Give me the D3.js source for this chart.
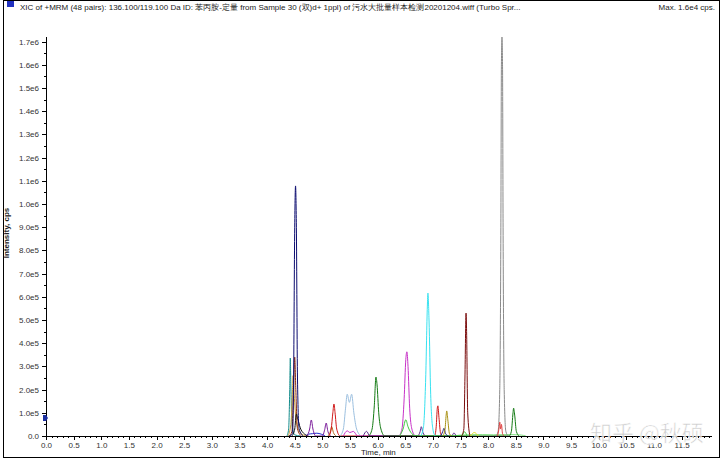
<!DOCTYPE html>
<html>
<head>
<meta charset="utf-8">
<script src="https://cdn.jsdelivr.net/npm/d3@7"></script>
<style>
  body { margin: 0; background: #fff; }
  svg { display: block; font-family: "Liberation Sans", Arial, sans-serif; }
  .axis text { font-size: 8px; fill: #333; }
  .axis path, .axis line { stroke: #000; shape-rendering: crispEdges; }
</style>
</head>
<body>
<svg id="vis_canvas" width="722" height="462"></svg>
<script>
// chart text
var title_text = "XIC of +MRM (48 pairs): 136.100/119.100 Da ID: 苯丙胺-定量 from Sample 30 (双)d+ 1ppl) of 污水大批量样本检测20201204.wiff (Turbo Spr...";
var max_text = "Max. 1.6e4 cps.";
var x_label = "Time, min";
var y_label = "Intensity, cps";
var watermark = "知乎 @秋硕";

// axis ticks
var x_ticks = [0, 0.5, 1, 1.5, 2, 2.5, 3, 3.5, 4, 4.5, 5, 5.5, 6, 6.5, 7, 7.5, 8, 8.5, 9, 9.5, 10, 10.5, 11, 11.5];
var y_ticks = [0, 1e5, 2e5, 3e5, 4e5, 5e5, 6e5, 7e5, 8e5, 9e5, 1e6, 1.1e6, 1.2e6, 1.3e6, 1.4e6, 1.5e6, 1.6e6, 1.7e6];
var threshold_level = 0.78e5;

// traces, [time (min), intensity (cps)]
var teal_trace = [[4.36,0],[4.39,0.3e5],[4.41,2.0e5],[4.42,3.36e5],[4.43,2.2e5],[4.45,0.5e5],[4.50,0.05e5],[4.60,0]];
var gold_trace = [[4.38,0],[4.43,0.5e5],[4.46,2.0e5],[4.47,2.6e5],[4.49,1.8e5],[4.53,0.6e5],[4.60,0.15e5],[4.70,0]];
var brown_trace = [[4.40,0],[4.45,0.2e5],[4.48,2.0e5],[4.50,3.4e5],[4.52,2.0e5],[4.55,0.3e5],[4.62,0]];
var navy_trace = [[4.40,0],[4.46,0.1e5],[4.48,2.5e5],[4.50,9.0e5],[4.515,10.78e5],[4.53,9.0e5],[4.55,2.5e5],[4.58,0.3e5],[4.65,0]];
var black_trace = [[4.45,0],[4.50,0.3e5],[4.53,0.95e5],[4.55,0.8e5],[4.60,0.35e5],[4.66,0.12e5],[4.75,0]];
var blue_trace = [[4.70,0],[4.75,0.08e5],[4.82,0.1e5],[4.90,0.12e5],[4.98,0.08e5],[5.05,0]];
var purple_trace = [[4.72,0],[4.77,0.3e5],[4.80,0.69e5],[4.83,0.3e5],[4.88,0],[5.00,0],[5.04,0.25e5],[5.07,0.56e5],[5.10,0.2e5],[5.15,0]];
var orange_trace = [[5.10,0],[5.14,0.15e5],[5.17,0.4e5],[5.20,0.15e5],[5.25,0]];
var red_trace = [[5.12,0],[5.16,0.3e5],[5.19,1.0e5],[5.21,1.38e5],[5.23,1.0e5],[5.26,0.3e5],[5.32,0],
                 [7.03,0],[7.06,0.4e5],[7.08,1.2e5],[7.09,1.3e5],[7.11,0.8e5],[7.14,0.1e5],[7.17,0]];
var steel_trace = [[5.32,0],[5.38,0.3e5],[5.42,1.2e5],[5.45,1.8e5],[5.49,1.45e5],[5.53,1.8e5],[5.57,1.0e5],[5.62,0.3e5],[5.70,0]];
var magenta_trace = [[5.38,0],[5.45,0.22e5],[5.50,0.15e5],[5.56,0.2e5],[5.64,0],
                     [6.38,0],[6.44,0.3e5],[6.48,1.6e5],[6.51,3.3e5],[6.53,3.63e5],[6.55,3.0e5],[6.58,1.2e5],[6.62,0.3e5],[6.68,0]];
var violet_trace = [[5.74,0],[5.80,0.2e5],[5.86,0],[6.72,0],[6.77,0.2e5],[6.79,0.4e5],[6.82,0.15e5],[6.87,0],[7.34,0],[7.38,0.13e5],[7.42,0]];
var darkgreen_trace = [[5.84,0],[5.90,0.3e5],[5.94,1.3e5],[5.97,2.54e5],[5.99,2.2e5],[6.02,1.0e5],[6.06,0.3e5],[6.13,0],
                       [8.38,0],[8.42,0.2e5],[8.45,1.0e5],[8.46,1.2e5],[8.48,0.9e5],[8.51,0.2e5],[8.56,0]];
var green_trace = [[6.40,0],[6.46,0.3e5],[6.51,0.7e5],[6.55,0.4e5],[6.62,0.1e5],[6.70,0],[7.52,0],[7.57,0.18e5],[7.62,0]];
var cyan_trace = [[6.78,0],[6.83,0.4e5],[6.87,2.5e5],[6.90,5.6e5],[6.91,6.16e5],[6.93,5.0e5],[6.96,1.8e5],[7.00,0.3e5],[7.04,0]];
var indigo_trace = [[7.14,0],[7.18,0.2e5],[7.20,0.33e5],[7.23,0.1e5],[7.28,0]];
var olive_trace = [[7.18,0],[7.22,0.3e5],[7.24,0.9e5],[7.25,1.08e5],[7.27,0.7e5],[7.30,0.1e5],[7.34,0]];
var maroon_trace = [[7.52,0],[7.56,0.3e5],[7.58,2.5e5],[7.60,5.3e5],[7.61,4.5e5],[7.63,1.0e5],[7.67,0]];
var yellow_trace = [[7.68,0],[7.75,0.15e5],[7.82,0]];
var lime_trace = [[7.40,0],[7.50,0.04e5],[7.90,0.06e5],[8.10,0.05e5],[8.40,0.06e5],[8.60,0.04e5],[8.68,0]];
var gray_trace = [[8.14,0],[8.18,0.2e5],[8.21,2.0e5],[8.23,9.0e5],[8.24,16.0e5],[8.25,17.2e5],[8.26,16.0e5],[8.27,9.0e5],[8.29,2.0e5],[8.32,0.2e5],[8.36,0]];
var pink_trace = [[8.17,0],[8.20,0.4e5],[8.21,0.6e5],[8.225,0.3e5],[8.24,0.5e5],[8.26,0.1e5],[8.29,0]];

var traces = [
    {data: lime_trace, color: "#7ee07e"},
    {data: blue_trace, color: "#1f2fd0"},
    {data: teal_trace, color: "#138c8c"},
    {data: gold_trace, color: "#c89a3c"},
    {data: brown_trace, color: "#8a2a10"},
    {data: black_trace, color: "#111111"},
    {data: purple_trace, color: "#7a1a9a"},
    {data: orange_trace, color: "#b86a20"},
    {data: red_trace, color: "#d01818"},
    {data: steel_trace, color: "#9cc0e0"},
    {data: magenta_trace, color: "#c832c8"},
    {data: violet_trace, color: "#5a2a8a"},
    {data: darkgreen_trace, color: "#137a13"},
    {data: green_trace, color: "#3cc83c"},
    {data: cyan_trace, color: "#38e2f0"},
    {data: indigo_trace, color: "#20207a"},
    {data: olive_trace, color: "#a89010"},
    {data: maroon_trace, color: "#7a0c0c"},
    {data: yellow_trace, color: "#e4e020"},
    {data: gray_trace, color: "#8a8a8a"},
    {data: pink_trace, color: "#e04040"},
    {data: navy_trace, color: "#0c0c70"}
];

var svg = d3.select("#vis_canvas");

var x = d3.scaleLinear().domain([0, 12.05]).range([46, 712]);
var y = d3.scaleLinear().domain([0, 1.72e6]).range([436, 37]);

// frame
svg.append("rect")
    .attr("x", 3.5).attr("y", 0.5).attr("width", 716).attr("height", 457)
    .attr("fill", "none").attr("stroke", "#000");

svg.append("rect")
    .attr("x", 7).attr("y", 1).attr("width", 7).attr("height", 6)
    .attr("fill", "#2030c0");

svg.append("text")
    .attr("x", 20).attr("y", 10)
    .style("font-size", "8px").style("fill", "#222")
    .text(title_text);

svg.append("text")
    .attr("x", 715).attr("y", 10)
    .attr("text-anchor", "end")
    .style("font-size", "8px").style("fill", "#222")
    .text(max_text);

// traces
var line = d3.line()
    .x(function(d) { return x(d[0]); })
    .y(function(d) { return y(d[1]); })
    .curve(d3.curveMonotoneX);

svg.selectAll(".trace").data(traces).enter().append("path")
    .attr("class", "trace")
    .attr("d", function(d) { return line(d.data); })
    .attr("fill", "none")
    .attr("stroke", function(d) { return d.color; })
    .attr("stroke-width", 1);

// axes
var fmt = function(v) {
    if (v == 0) return "0.0";
    if (v < 1e6) return (v / 1e5).toFixed(1) + "e5";
    return (v / 1e6).toFixed(1) + "e6";
};

svg.append("g").attr("class", "axis")
    .attr("transform", "translate(0,436)")
    .call(d3.axisBottom(x).tickValues(d3.range(0, 12.05, 0.1)).tickSize(2).tickFormat(""));
svg.append("g").attr("class", "axis")
    .attr("transform", "translate(0,436)")
    .call(d3.axisBottom(x).tickValues(x_ticks).tickSize(4).tickPadding(2).tickFormat(function(d) { return d.toFixed(1); }));

svg.append("g").attr("class", "axis")
    .attr("transform", "translate(46,0)")
    .call(d3.axisLeft(y).tickValues(d3.range(0, 1.72e6, 0.5e5)).tickSize(2).tickFormat(""));
svg.append("g").attr("class", "axis")
    .attr("transform", "translate(46,0)")
    .call(d3.axisLeft(y).tickValues(y_ticks).tickSize(4).tickPadding(3).tickFormat(fmt));

svg.selectAll(".axis .domain").attr("d", null);
svg.append("line").attr("x1", 46).attr("x2", 712).attr("y1", 436.5).attr("y2", 436.5).attr("stroke", "#000");
svg.append("line").attr("x1", 46.5).attr("x2", 46.5).attr("y1", 37).attr("y2", 436).attr("stroke", "#000");

// threshold marker
var ty = y(threshold_level);
svg.append("path")
    .attr("d", "M43," + (ty - 3) + "L46," + (ty - 3) + "L48," + ty + "L46," + (ty + 3) + "L43," + (ty + 3) + "Z")
    .attr("fill", "#1c2fa0");

// labels
svg.append("text")
    .attr("x", 361).attr("y", 455)
    .style("font-size", "8px").style("fill", "#222")
    .text(x_label);

svg.append("text")
    .attr("transform", "translate(9,233) rotate(-90)")
    .attr("text-anchor", "middle")
    .style("font-size", "8px").style("font-weight", "bold").style("fill", "#222")
    .text(y_label);

// watermark
svg.append("text")
    .attr("x", 590).attr("y", 441)
    .style("font-family", "'Noto Sans CJK SC', sans-serif")
    .style("font-size", "22px")
    .style("fill", "#bdbdbd").style("fill-opacity", 0.75)
    .style("stroke", "#fff").style("stroke-width", 0.6)
    .text(watermark);
</script>
</body>
</html>
